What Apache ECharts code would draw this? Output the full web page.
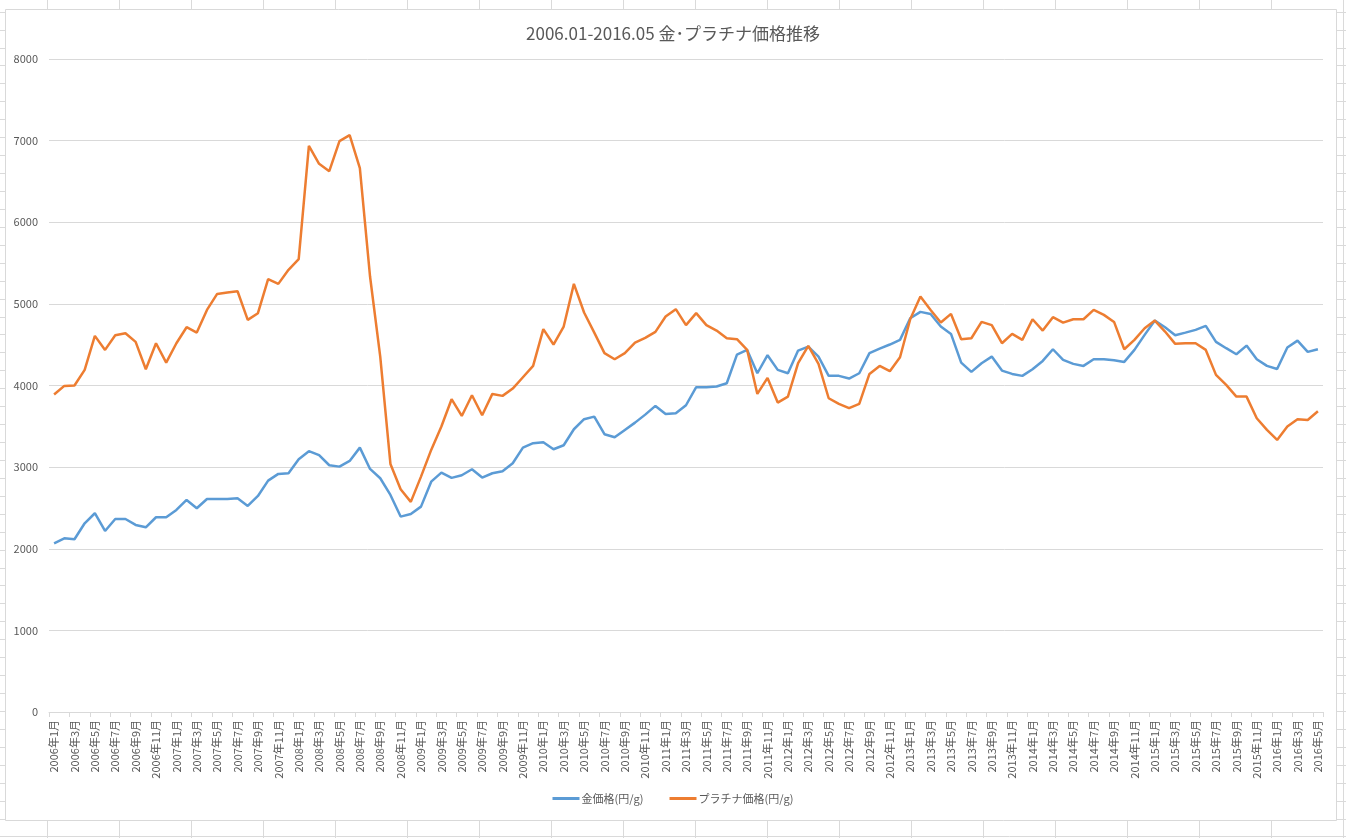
<!DOCTYPE html>
<html><head><meta charset="utf-8">
<script src="https://cdn.jsdelivr.net/npm/echarts@6/dist/echarts.min.js"></script>
<style>html,body{margin:0;padding:0;background:#fff}#c{width:1346px;height:838px}</style>
</head><body><div id="c"></div>
<script>
const startYear = 2006, startMonth = 1, monthCount = 125;
const categories = [];
for (let k = 0; k < monthCount; k++) {
  const m = (startMonth - 1 + k);
  categories.push((startYear + Math.floor(m / 12)) + '年' + (m % 12 + 1) + '月');
}
const goldPrice = [2067,2128,2116,2312,2435,2218,2365,2365,2292,2263,
  2386,2386,2475,2598,2496,2610,2610,2610,2618,2525,
  2647,2835,2917,2925,3097,3195,3146,3023,3006,3076,
  3239,2978,2864,2659,2394,2426,2516,2822,2933,2868,
  2900,2974,2872,2925,2950,3048,3239,3293,3305,3219,
  3268,3464,3587,3619,3403,3366,3456,3545,3643,3750,
  3652,3660,3758,3979,3979,3987,4028,4379,4436,4150,
  4371,4191,4150,4428,4477,4354,4118,4118,4085,4150,
  4396,4452,4502,4559,4824,4902,4877,4722,4632,4281,
  4167,4273,4354,4183,4142,4118,4199,4301,4444,4314,
  4265,4240,4322,4322,4310,4289,4436,4620,4796,4714,
  4616,4648,4681,4730,4534,4457,4383,4489,4322,4240,
  4203,4465,4550,4412,4444];
const platinumPrice = [3889,3995,4000,4191,4608,4436,4616,4641,4534,4199,
  4518,4281,4518,4714,4648,4926,5122,5139,5155,4804,
  4886,5302,5245,5417,5548,6936,6716,6626,6994,7067,
  6663,5335,4354,3039,2729,2574,2884,3211,3497,3832,
  3627,3881,3636,3897,3873,3962,4101,4240,4690,4502,
  4722,5245,4894,4648,4396,4322,4396,4526,4583,4657,
  4845,4935,4739,4886,4739,4673,4579,4567,4436,3897,
  4093,3791,3864,4273,4485,4265,3844,3775,3722,3775,
  4142,4240,4175,4346,4812,5090,4926,4771,4877,4567,
  4579,4779,4739,4518,4632,4559,4812,4673,4837,4771,
  4812,4812,4926,4865,4779,4444,4559,4702,4796,4661,
  4510,4518,4518,4436,4130,4007,3864,3864,3599,3456,
  3333,3497,3587,3578,3685];
const seriesNames = ['金価格(円/g)', 'プラチナ価格(円/g)'];
const titleText = '2006.01-2016.05 金･プラチナ価格推移';

const FONT = '"Noto Sans CJK JP", "Noto Sans", sans-serif';
// spreadsheet background grid (decoration)
const sheet = [];
for (let x = 46.5; x < 1346; x += 72) {
  sheet.push({type:'line', z:-20, silent:true, shape:{x1:Math.round(x)+0.5,y1:0,x2:Math.round(x)+0.5,y2:838}, style:{stroke:'#dadada',lineWidth:1}});
}
for (let y = 11.7; y < 838; y += 17.93) {
  sheet.push({type:'line', z:-20, silent:true, shape:{x1:0,y1:Math.round(y)+0.5,x2:1346,y2:Math.round(y)+0.5}, style:{stroke:'#dadada',lineWidth:1}});
}
sheet.push({type:'rect', z:-10, silent:true, shape:{x:5.5,y:9.5,width:1331,height:811}, style:{fill:'#ffffff',stroke:'#d9d9d9',lineWidth:1}});

const chart = echarts.init(document.getElementById('c'));
chart.setOption({
  backgroundColor: '#ffffff',
  animation: false,
  graphic: sheet,
  title: {
    text: titleText, left: 'center', top: 20,
    textStyle: {fontFamily: FONT, fontSize: 17, fontWeight: 'normal', color: '#595959'}
  },
  legend: {
    bottom: 29, left: 'center', itemWidth: 27, itemHeight: 3, itemGap: 26,
    icon: 'rect',
    textStyle: {fontFamily: FONT, fontSize: 11, color: '#595959', padding: [0, 0, 0, -3]},
    data: seriesNames
  },
  grid: {left: 49, right: 23, top: 59, bottom: 126},
  xAxis: {
    type: 'category', data: categories, boundaryGap: true,
    axisLine: {lineStyle: {color: '#d9d9d9'}},
    axisTick: {show: true, interval: 1, length: 5, lineStyle: {color: '#d9d9d9'}},
    axisLabel: {interval: 1, rotate: 90, margin: 8, fontFamily: FONT, fontSize: 11, color: '#595959'}
  },
  yAxis: {
    type: 'value', min: 0, max: 8000, interval: 1000,
    axisLine: {show: false}, axisTick: {show: false},
    axisLabel: {margin: 11, fontFamily: FONT, fontSize: 11, color: '#595959', formatter: v => String(v)},
    splitLine: {lineStyle: {color: '#d9d9d9'}}
  },
  series: [
    {name: seriesNames[0], type: 'line', data: goldPrice, showSymbol: false, symbol: 'none',
     lineStyle: {color: '#5B9BD5', width: 2.5}, itemStyle: {color: '#5B9BD5'}},
    {name: seriesNames[1], type: 'line', data: platinumPrice, showSymbol: false, symbol: 'none',
     lineStyle: {color: '#ED7D31', width: 2.5}, itemStyle: {color: '#ED7D31'}}
  ]
});
</script></body></html>
